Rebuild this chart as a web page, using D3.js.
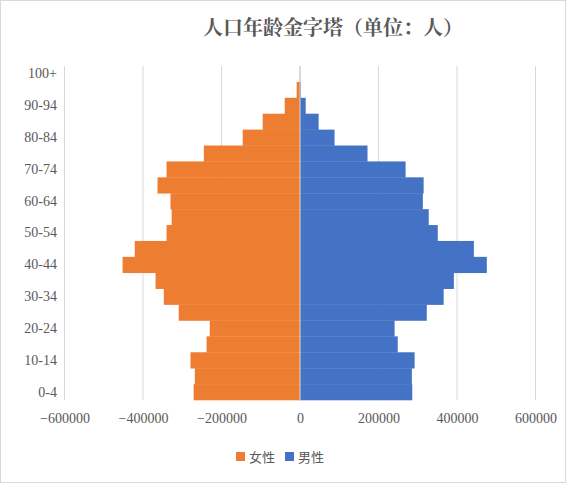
<!DOCTYPE html>
<html><head><meta charset="utf-8">
<script src="https://cdn.jsdelivr.net/npm/d3@7"></script>
<style>body{margin:0;background:#fff}</style></head>
<body><svg id="c" width="566" height="483"></svg>
<script>
const ages = ["0-4","5-9","10-14","15-19","20-24","25-29","30-34","35-39","40-44","45-49","50-54","55-59","60-64","65-69","70-74","75-79","80-84","85-89","90-94","95-99","100+"];
const female = [271000,268000,279000,238000,230000,309000,347000,368000,452000,421000,340000,327000,330000,363000,340000,245000,146000,95000,39000,8500,600];
const male = [286000,285000,292000,249000,241000,323000,366000,392000,476000,443000,351000,328000,313000,315000,269000,172000,88000,47500,14500,2000,300];
const ticks = [-600000,-400000,-200000,0,200000,400000,600000];
const ageLabels = ["0-4","10-14","20-24","30-34","40-44","50-54","60-64","70-74","80-84","90-94","100+"];

const svg = d3.select("#c");
const font = "'Liberation Serif','Times New Roman',serif";
svg.append("rect").attr("x",0.5).attr("y",0.5).attr("width",565).attr("height",482).attr("fill","#fff").attr("stroke","#d9d9d9");
const x = d3.scaleLinear().domain([-600000,600000]).range([64.5,535.5]);
const y = d3.scaleBand().domain(ages).range([400,66]).padding(0);

svg.append("g").selectAll("line").data(ticks).join("line")
  .attr("x1",d=>x(d)).attr("x2",d=>x(d)).attr("y1",66).attr("y2",400)
  .attr("stroke","#d9d9d9").attr("stroke-width",1);

svg.append("g").selectAll("rect").data(ages).join("rect")
  .attr("x",(d,i)=>x(-female[i])).attr("width",(d,i)=>x(0)-x(-female[i]))
  .attr("y",d=>y(d)).attr("height",y.bandwidth()+0.3).attr("fill","#ed7d31");
svg.append("g").selectAll("rect").data(ages).join("rect")
  .attr("x",x(0)).attr("width",(d,i)=>x(male[i])-x(0))
  .attr("y",d=>y(d)).attr("height",y.bandwidth()+0.3).attr("fill","#4472c4");
svg.append("line").attr("x1",x(0)).attr("x2",x(0)).attr("y1",66).attr("y2",400).attr("stroke","#d9d9d9");

const xa = svg.append("g").attr("transform","translate(0,400)")
  .call(d3.axisBottom(x).tickValues(ticks).tickSize(0).tickPadding(13).tickFormat(d=>d<0?"−"+Math.abs(d):String(d)));
xa.select(".domain").remove();
xa.selectAll("text").attr("font-family",font).attr("font-size",14).attr("fill","#595959");

const ya = svg.append("g").attr("transform","translate(57,0)")
  .call(d3.axisLeft(y).tickValues(ageLabels).tickSize(0).tickPadding(0));
ya.select(".domain").remove();
ya.selectAll("text").attr("font-family",font).attr("font-size",14).attr("fill","#595959");

svg.append("text").attr("x",333).attr("y",35).attr("text-anchor","middle")
  .attr("font-family","'Noto Serif CJK SC','Noto Sans CJK SC',serif").attr("font-weight","bold")
  .attr("font-size",20).attr("fill","#595959").text("人口年龄金字塔（单位：人）");

const leg = [["女性","#ed7d31",236],["男性","#4472c4",285]];
leg.forEach(([t,c,lx])=>{
  svg.append("rect").attr("x",lx).attr("y",452).attr("width",9).attr("height",9).attr("fill",c);
  svg.append("text").attr("x",lx+13).attr("y",462).attr("font-family","'Noto Sans CJK SC',sans-serif")
    .attr("font-size",13).attr("fill","#595959").text(t);
});
</script></body></html>
